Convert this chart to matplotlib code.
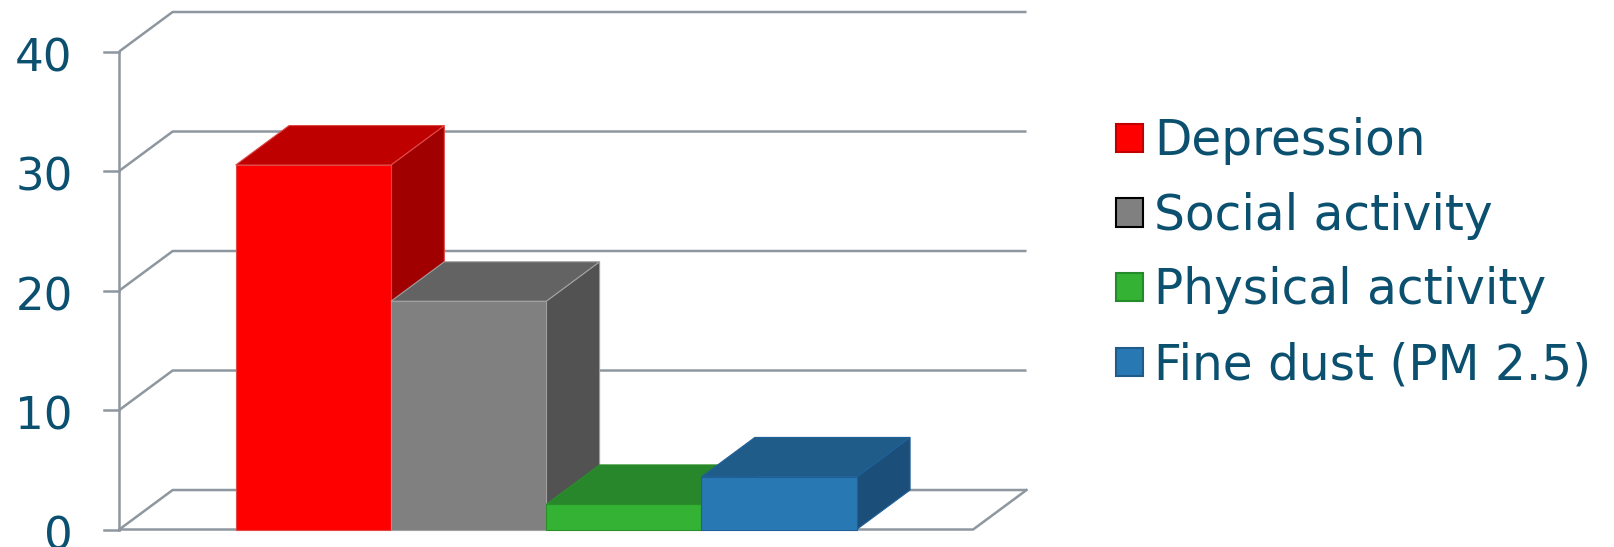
import matplotlib.pyplot as plt
from matplotlib.patches import Patch

# ------------------------------------------------------------
# datos
# ------------------------------------------------------------
series = ["Depression", "Social activity", "Physical activity", "Fine dust (PM 2.5)"]
values = [30.5, 19.1, 2.1, 4.4]
y_ticks = [0, 10, 20, 30, 40]

front_colors = ["#FF0000", "#808080", "#33B233", "#2878B4"]
top_colors = ["#BF0000", "#636363", "#28872A", "#1F5C8A"]
side_colors = ["#A00000", "#525252", "#1F6E22", "#1B4E78"]
bar_edges = ["#E04848", "#A0A0A0", "#2A8F2A", "#20609A"]
legend_edges = ["#C00000", "#000000", "#258A2A", "#1F5C8A"]

text_color = "#0C5070"
grid_color = "#8E979F"

# profundidad de la perspectiva (en unidades de datos)
DX, DZ = 0.344, 3.305
x0, x1 = -1.25, 4.25

fig = plt.figure(figsize=(16.14, 5.47), dpi=100)
ax = fig.add_axes([0, 0, 1, 1])
ax.set_xlim(-2.018, 8.378)
ax.set_ylim(-1.464, 44.31)
ax.axis("off")

# paredes y gridlines
for v in y_ticks:
    ax.plot([x0, x0 + DX, x1 + DX], [v, v + DZ, v + DZ], color=grid_color,
            lw=1.8, solid_capstyle="butt", zorder=1)
    ax.plot([x0 - 0.099, x0], [v, v], color=grid_color, lw=1.8, zorder=1)
    ax.text(x0 - 0.30, v - 0.6, str(v), ha="right", va="center",
            fontsize=32.5, color=text_color)
ax.plot([x0, x0], [0, y_ticks[-1]], color=grid_color, lw=1.8, zorder=1)
ax.plot([x0, x1, x1 + DX], [0, 0, DZ], color=grid_color, lw=1.8, zorder=1)

# barras 3D
for i, v in enumerate(values):
    z = 2 + 3 * i
    ax.fill([i + 0.5, i + 0.5 + DX, i + 0.5 + DX, i + 0.5],
            [0, DZ, v + DZ, v], color=side_colors[i], ec=bar_edges[i],
            lw=0.8, zorder=z)
    ax.fill([i - 0.5, i + 0.5, i + 0.5 + DX, i - 0.5 + DX],
            [v, v, v + DZ, v + DZ], color=top_colors[i], ec=bar_edges[i],
            lw=0.8, zorder=z + 1)
    ax.bar(i, v, width=1.0, color=front_colors[i], edgecolor=bar_edges[i],
           lw=0.8, zorder=z + 2)

handles = [Patch(facecolor=fc, edgecolor=ec, lw=1.5)
           for fc, ec in zip(front_colors, legend_edges)]
fig.legend(handles, series, loc="upper left",
           bbox_to_anchor=(1115.7 / 1614, 1 - 117 / 547),
           frameon=False, fontsize=35, labelcolor=text_color,
           handlelength=0.57, handleheight=0.52, handletextpad=0.22,
           labelspacing=0.55, borderpad=0, borderaxespad=0)

plt.savefig("out.png", dpi=100)
